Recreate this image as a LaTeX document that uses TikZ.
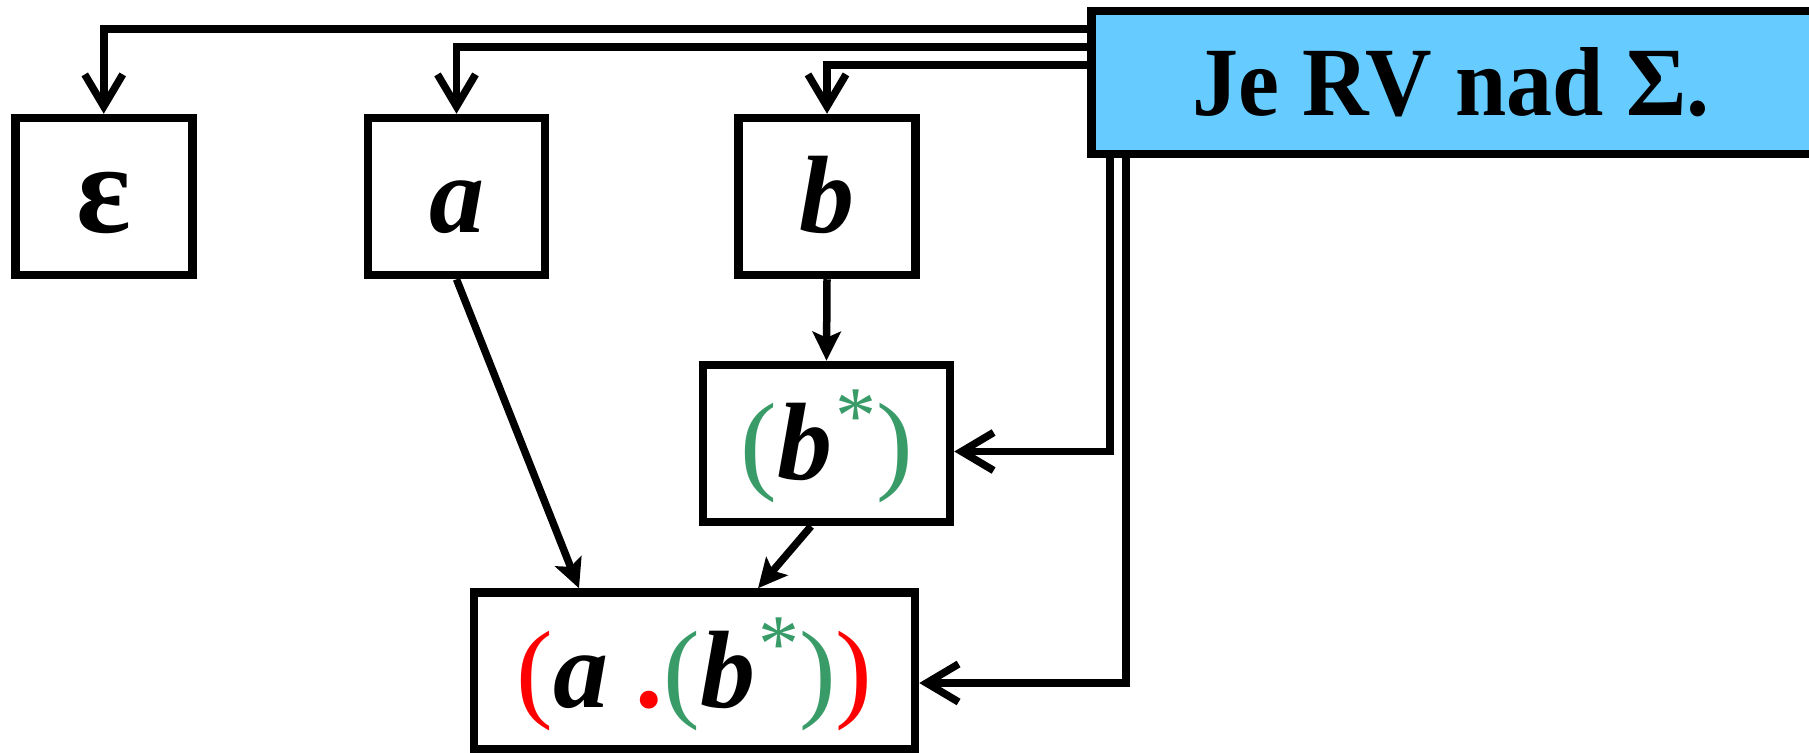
\documentclass[tikz,border=0pt]{standalone}
\usepackage{fontspec}
\setmainfont{Liberation Serif}
\usetikzlibrary{arrows.meta}
\definecolor{boxblue}{RGB}{102,204,255}
\definecolor{stargreen}{RGB}{56,155,104}
\definecolor{dotred}{RGB}{255,0,0}
\newcommand{\gstar}{\textcolor{stargreen}{\raisebox{36pt}{\fontsize{82}{82}\selectfont *}}}
\begin{document}
\begin{tikzpicture}[x=1pt,y=-1pt,
  box/.style={draw, line width=8.5pt, rectangle, inner sep=0pt, minimum width=177pt, minimum height=157pt, text height=92pt, text depth=20pt, font=\fontsize{110}{120}\selectfont},
  conn/.style={line width=7.5pt},
  openarrow/.style={conn, -{Straight Barb[length=32pt,width=38pt]}},
  filledarrow/.style={conn, -{Stealth[length=29pt,width=28pt,inset=6pt]}},
]
\useasboundingbox (0,0) rectangle (1809,752);
\node[box] (eps) at (103.75,196.5) {\fontsize{128}{130}\selectfont\textbf{ε}};
\node[box] (a) at (456.5,196.5) {\textbf{\textit{a}}};
\node[box] (b) at (827,196.5) {\textbf{\textit{b}}};
\node[box, minimum width=247pt] (bstar) at (826.5,443.5) {{\color{stargreen}(}\textbf{\textit{b}}\kern3pt\gstar{\color{stargreen})}};
\node[box, minimum width=441pt] (bot) at (694.5,671) {{\color{dotred}(}\textbf{\textit{a}} {\color{dotred}\textbf{.}}{\color{stargreen}(}\textbf{\textit{b}}\kern3pt\gstar{\color{stargreen})}{\color{dotred})}};
\node[box, fill=boxblue, anchor=west, minimum width=760pt, minimum height=143pt, text height=85pt, text depth=20pt, font=\fontsize{98}{110}\selectfont\bfseries] (blue) at (1087,82.5) {\hspace*{-40pt}\scalebox{0.94}[1]{Je RV nad Σ.}};
\draw[openarrow] (blue.west |- 0,29) -| (eps.north);
\draw[openarrow] (blue.west |- 0,47) -| (a.north);
\draw[openarrow] (blue.west |- 0,65) -| (b.north);
\draw[openarrow] (blue.south -| 1110,0) |- ([yshift=-8pt]bstar.east);
\draw[openarrow] (blue.south -| 1126,0) |- ([yshift=-12pt]bot.east);
\draw[filledarrow] (a.south) -- (bot.north -| 579,0);
\draw[filledarrow] (b.south) -- (bstar.north);
\draw[filledarrow] (bstar.south -| 811,0) -- (bot.north -| 758,0);
\end{tikzpicture}
\end{document}
